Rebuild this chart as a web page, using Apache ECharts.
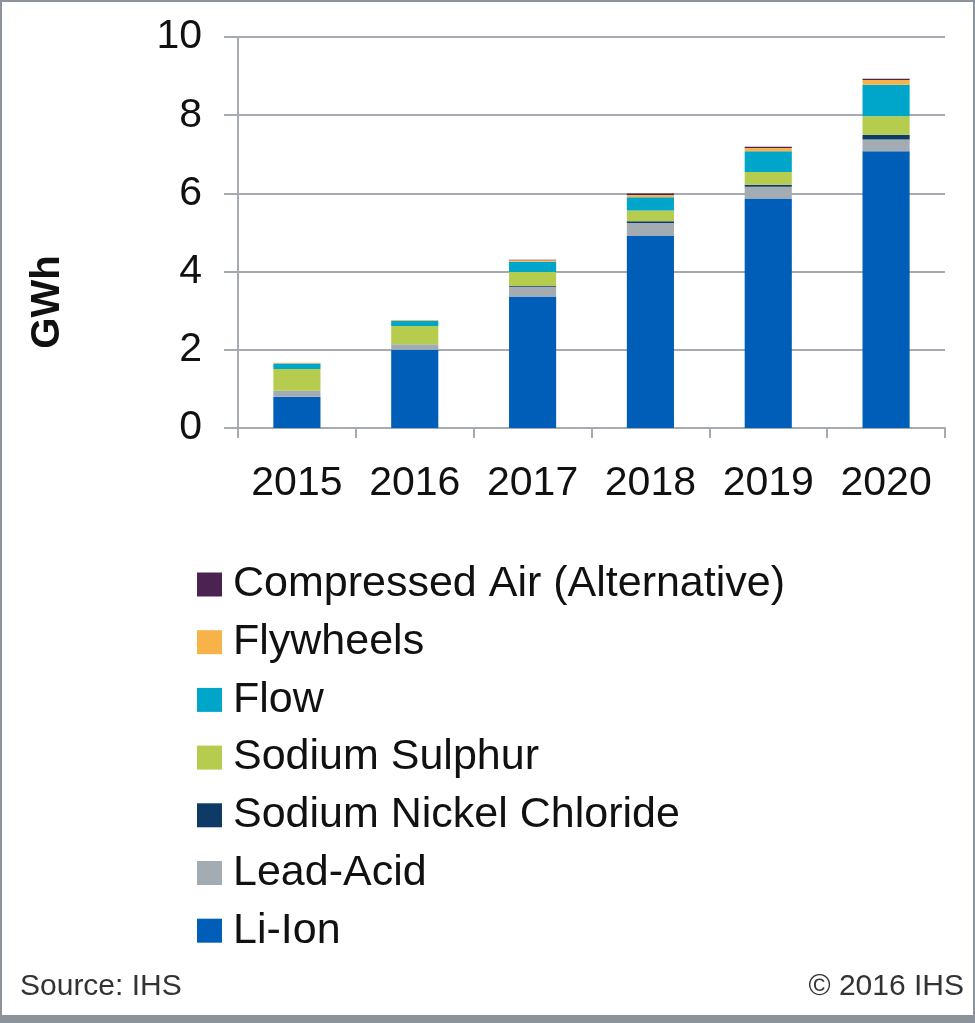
<!DOCTYPE html>
<html>
<head>
<meta charset="utf-8">
<script src="https://cdn.jsdelivr.net/npm/echarts@6/dist/echarts.min.js"></script>
<style>
  html, body { margin: 0; padding: 0; background: #fff; }
  #wrap { position: relative; width: 975px; height: 1023px; }
  #chart { width: 975px; height: 1023px; }
  #frame { position: absolute; left: 0; top: 0; width: 975px; height: 1023px; box-sizing: border-box;
           border-left: 2px solid #8c939b; border-top: 2px solid #8c939b;
           border-right: 2px solid #8c939b; border-bottom: 8px solid #8c939b; pointer-events: none; }
</style>
</head>
<body>
<div id="wrap">
  <div id="chart"></div>
  <div id="frame"></div>
</div>
<script>
// years on the x axis
var years = ['2015', '2016', '2017', '2018', '2019', '2020'];

// GWh per technology, stacked bottom to top
var liIon       = [0.80, 2.00, 3.36, 4.91, 5.87, 7.08];
var leadAcid    = [0.15, 0.14, 0.25, 0.33, 0.30, 0.30];
var sodiumNiCl  = [0.00, 0.00, 0.02, 0.05, 0.05, 0.12];
var sodiumSul   = [0.56, 0.47, 0.36, 0.27, 0.33, 0.47];
var flow        = [0.14, 0.13, 0.26, 0.34, 0.53, 0.81];
var flywheels   = [0.02, 0.02, 0.04, 0.06, 0.08, 0.12];
var compressed  = [0.00, 0.00, 0.01, 0.04, 0.03, 0.03];

var yTicks = [0, 2, 4, 6, 8, 10];

var font = 'Liberation Sans, Arial, sans-serif';
var myChart = echarts.init(document.getElementById('chart'));

function bar(name, data, color) {
	return {
		name: name,
		type: 'bar',
		stack: 'total',
		barWidth: '40%',
		itemStyle: { color: color },
		emphasis: { disabled: true },
		data: data
	};
}

var option = {
	animation: false,
	textStyle: { fontFamily: font },
	grid: {
		left: 238,
		right: 30,
		top: 37,
		bottom: 595
	},
	legend: {
		orient: 'vertical',
		left: 197,
		top: 563,
		padding: 0,
		itemWidth: 25,
		itemHeight: 24,
		itemGap: 14.7,
		icon: 'rect',
		textStyle: { fontSize: 43, color: '#111', lineHeight: 43, padding: [0, 0, 0, 6] },
		data: ['Compressed Air (Alternative)', 'Flywheels', 'Flow', 'Sodium Sulphur',
		       'Sodium Nickel Chloride', 'Lead-Acid', 'Li-Ion']
	},
	xAxis: {
		type: 'category',
		data: years,
		axisLine: { lineStyle: { color: '#a6abb1', width: 2 } },
		axisTick: { show: true, length: 10, lineStyle: { color: '#a6abb1', width: 2 } },
		axisLabel: { fontSize: 41, color: '#111', margin: 35, interval: 0 }
	},
	yAxis: {
		type: 'value',
		min: yTicks[0],
		max: yTicks[yTicks.length - 1],
		interval: 2,
		axisLine: { show: true, lineStyle: { color: '#a6abb1', width: 2 } },
		axisTick: { show: true, length: 14, lineStyle: { color: '#a6abb1', width: 2 } },
		splitLine: { lineStyle: { color: '#a6abb1', width: 2 } },
		axisLabel: { fontSize: 41, color: '#111', margin: 36 }
	},
	graphic: [
		{ type: 'text', x: 28, y: 302, rotation: Math.PI / 2,
		  style: { text: 'GWh', fontSize: 40, fontWeight: 'bold', fill: '#111', fontFamily: font,
		           align: 'center', verticalAlign: 'top' } },
		{ type: 'text', left: 20, top: 972, style: { text: 'Source: IHS', fontSize: 30, fill: '#333', fontFamily: font } },
		{ type: 'text', right: 11, top: 972, style: { text: '\u00a9 2016 IHS', fontSize: 30, fill: '#333', fontFamily: font } }
	],
	series: [
		bar('Li-Ion', liIon, '#005eb8'),
		bar('Lead-Acid', leadAcid, '#a3abb3'),
		bar('Sodium Nickel Chloride', sodiumNiCl, '#0e3a66'),
		bar('Sodium Sulphur', sodiumSul, '#b6cc4e'),
		bar('Flow', flow, '#00a6c9'),
		bar('Flywheels', flywheels, '#f7b24a'),
		bar('Compressed Air (Alternative)', compressed, '#4b2350')
	]
};

myChart.setOption(option);
</script>
</body>
</html>
